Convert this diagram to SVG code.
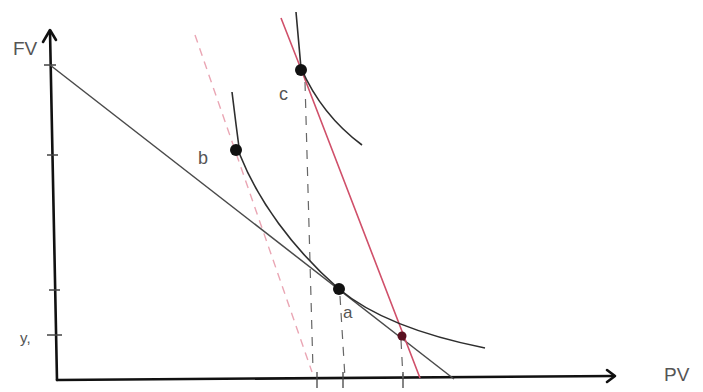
<svg xmlns="http://www.w3.org/2000/svg" width="703" height="392" viewBox="0 0 703 392">
<style>
.axis{fill:none;stroke:#111;stroke-width:2.6;stroke-linecap:round;stroke-linejoin:round}
.tick{fill:none;stroke:#444;stroke-width:1.3}
.budget{fill:none;stroke:#4a4a4a;stroke-width:1.5}
.curve{fill:none;stroke:#2e2e2e;stroke-width:1.6}
.red{fill:none;stroke:#d0506a;stroke-width:1.6}
.pink{fill:none;stroke:#eaa6b4;stroke-width:1.4;stroke-dasharray:8 6}
.drop{fill:none;stroke:#666;stroke-width:1.2;stroke-dasharray:9 8}
.lbl{font-family:"Liberation Sans",Arial,sans-serif;fill:#555}
.dot{fill:#111}
</style>
<rect width="703" height="392" fill="#fff"/>
<g id="axes">
<path class="axis" d="M57,380 L50,31"/>
<path class="axis" d="M43,42 L50,30 L56,40"/>
<path class="axis" d="M57,380 L614,376"/>
<path class="axis" d="M607,370 L615,376 L607,382"/>
<path class="tick" d="M44,65 L56,65 M47,155 L58,155 M49,290 L60,290 M47,335 L62,335 M317,372 L317,388 M343,372 L343,388 M403,372 L403,388"/>
<text class="lbl" x="13" y="55" font-size="19">FV</text>
<text class="lbl" x="20" y="343" font-size="15">y,</text>
<text class="lbl" x="664" y="381" font-size="19">PV</text>
</g>
<g id="connectors">
<path class="pink" d="M195,35 L312,372"/>
<path class="drop" d="M305,82 L313,370"/>
<path class="drop" d="M340,296 L345,378"/>
<path class="drop" d="M401,340 L403,378"/>
<path class="budget" d="M50,65 L454,379"/>
<path class="red" d="M281,18 L301,69 L420,378"/>
<path class="curve" d="M232,92 Q236,125 240,155 C258,200 292,248 339,289 C370,315 420,335 485,348"/>
<path class="curve" d="M296,12 L301,68 C315,100 335,125 362,145"/>
</g>
<g id="node-b">
<circle class="dot" cx="236" cy="150" r="6"/>
<text class="lbl" x="198" y="164" font-size="18" fill="#333">b</text>
</g>
<g id="node-c">
<circle class="dot" cx="301" cy="70" r="6"/>
<text class="lbl" x="279" y="100" font-size="18">c</text>
</g>
<g id="node-a">
<circle class="dot" cx="339" cy="289" r="6"/>
<text class="lbl" x="343" y="318" font-size="17">a</text>
</g>
<g id="node-d">
<circle cx="402" cy="336" r="4.5" fill="#5a1020"/>
</g>
</svg>
